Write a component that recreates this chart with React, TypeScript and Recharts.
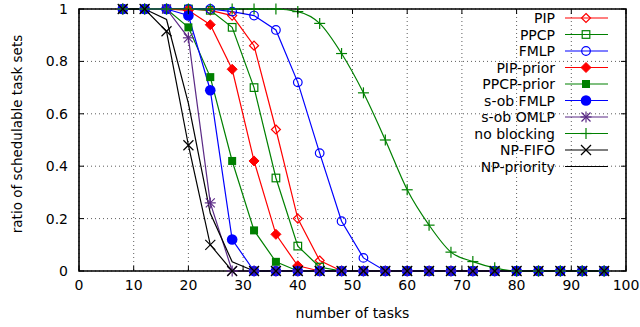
import React from 'react'
import { LineChart, Line, XAxis, YAxis, CartesianGrid, Legend, ReferenceArea } from 'recharts'

// number of tasks (x) and ratio of schedulable task sets per protocol
const tasks = [8, 12, 16, 20, 24, 28, 32, 36, 40, 44, 48, 52, 56, 60, 64, 68, 72, 76, 80, 84, 88, 92, 96]

const pip = [1, 1, 1, 1, 0.995, 0.975, 0.86, 0.54, 0.2, 0.04, 0, 0, 0, 0, 0, 0, 0, 0, 0, 0, 0, 0, 0]
const ppcp = [1, 1, 1, 1, 0.995, 0.93, 0.7, 0.355, 0.095, 0.015, 0, 0, 0, 0, 0, 0, 0, 0, 0, 0, 0, 0, 0]
const fmlp = [1, 1, 1, 1, 1, 0.99, 0.975, 0.92, 0.72, 0.45, 0.19, 0.05, 0, 0, 0, 0, 0, 0, 0, 0, 0, 0, 0]
const pipPrior = [1, 1, 1, 0.995, 0.94, 0.77, 0.42, 0.14, 0.02, 0, 0, 0, 0, 0, 0, 0, 0, 0, 0, 0, 0, 0, 0]
const ppcpPrior = [1, 1, 1, 0.93, 0.74, 0.42, 0.155, 0.035, 0, 0, 0, 0, 0, 0, 0, 0, 0, 0, 0, 0, 0, 0, 0]
const sobFmlp = [1, 1, 1, 0.975, 0.69, 0.12, 0, 0, 0, 0, 0, 0, 0, 0, 0, 0, 0, 0, 0, 0, 0, 0, 0]
const sobOmlp = [1, 1, 1, 0.89, 0.26, 0, 0, 0, 0, 0, 0, 0, 0, 0, 0, 0, 0, 0, 0, 0, 0, 0, 0]
const noBlocking = [1, 1, 1, 1, 1, 1, 1, 1, 0.99, 0.945, 0.83, 0.68, 0.5, 0.31, 0.175, 0.072, 0.036, 0.012, 0, 0, 0, 0, 0]
const npFifo = [1, 1, 0.915, 0.48, 0.1, 0, 0, 0, 0, 0, 0, 0, 0, 0, 0, 0, 0, 0, 0, 0, 0, 0, 0]
const npPriority = [1, 1, 0.96, 0.64, 0.22, 0.035, 0, 0, 0, 0, 0, 0, 0, 0, 0, 0, 0, 0, 0, 0, 0, 0, 0]

const xTicks = [0, 10, 20, 30, 40, 50, 60, 70, 80, 90, 100]
const yTicks = [0, 0.2, 0.4, 0.6, 0.8, 1]

const RED = '#ff0000'
const GREEN = '#008000'
const BLUE = '#0000ff'
const PURPLE = '#5b2a86'
const BLACK = '#000000'
const FONT = "'DejaVu Sans', sans-serif"

// plot box (from chart margins + axis sizes)
const PLOT = { left: 79, right: 626, top: 9, bottom: 271 }

type MarkerKind =
  | 'diamondOpen'
  | 'squareOpen'
  | 'circleOpen'
  | 'diamond'
  | 'square'
  | 'circle'
  | 'star'
  | 'plus'
  | 'cross'
  | null

interface Series {
  key: string
  values: number[]
  color: string
  marker: MarkerKind
  curve: 'linear' | 'monotone'
}

const series: Series[] = [
  { key: 'PIP', values: pip, color: RED, marker: 'diamondOpen', curve: 'linear' },
  { key: 'PPCP', values: ppcp, color: GREEN, marker: 'squareOpen', curve: 'linear' },
  { key: 'FMLP', values: fmlp, color: BLUE, marker: 'circleOpen', curve: 'linear' },
  { key: 'PIP-prior', values: pipPrior, color: RED, marker: 'diamond', curve: 'linear' },
  { key: 'PPCP-prior', values: ppcpPrior, color: GREEN, marker: 'square', curve: 'linear' },
  { key: 's-ob FMLP', values: sobFmlp, color: BLUE, marker: 'circle', curve: 'linear' },
  { key: 's-ob OMLP', values: sobOmlp, color: PURPLE, marker: 'star', curve: 'linear' },
  { key: 'no blocking', values: noBlocking, color: GREEN, marker: 'plus', curve: 'monotone' },
  { key: 'NP-FIFO', values: npFifo, color: BLACK, marker: 'cross', curve: 'linear' },
  { key: 'NP-priority', values: npPriority, color: BLACK, marker: null, curve: 'linear' },
]

const data = tasks.map((t, i) => {
  const row: Record<string, number> = { tasks: t }
  series.forEach((s) => {
    row[s.key] = s.values[i]
  })
  return row
})

const Marker = ({ kind, cx, cy, color }: { kind: MarkerKind; cx: number; cy: number; color: string }) => {
  if (cx == null || cy == null) return null
  switch (kind) {
    case 'diamondOpen':
      return (
        <polygon
          points={`${cx},${cy - 4.5} ${cx + 4.5},${cy} ${cx},${cy + 4.5} ${cx - 4.5},${cy}`}
          fill="none"
          stroke={color}
          strokeWidth={1.2}
        />
      )
    case 'diamond':
      return (
        <polygon
          points={`${cx},${cy - 5} ${cx + 5},${cy} ${cx},${cy + 5} ${cx - 5},${cy}`}
          fill={color}
          stroke={color}
        />
      )
    case 'squareOpen':
      return <rect x={cx - 3.8} y={cy - 3.8} width={7.6} height={7.6} fill="none" stroke={color} strokeWidth={1.2} />
    case 'square':
      return <rect x={cx - 4} y={cy - 4} width={8} height={8} fill={color} />
    case 'circleOpen':
      return <circle cx={cx} cy={cy} r={4.3} fill="none" stroke={color} strokeWidth={1.2} />
    case 'circle':
      return <circle cx={cx} cy={cy} r={5.3} fill={color} />
    case 'plus':
      return (
        <g stroke={color} strokeWidth={1.2}>
          <line x1={cx - 5.5} x2={cx + 5.5} y1={cy} y2={cy} />
          <line x1={cx} x2={cx} y1={cy - 5.5} y2={cy + 5.5} />
        </g>
      )
    case 'cross':
      return (
        <g stroke={color} strokeWidth={1.2}>
          <line x1={cx - 5} x2={cx + 5} y1={cy - 5} y2={cy + 5} />
          <line x1={cx - 5} x2={cx + 5} y1={cy + 5} y2={cy - 5} />
        </g>
      )
    case 'star':
      return (
        <g stroke={color} strokeWidth={1.2}>
          <line x1={cx - 5.5} x2={cx + 5.5} y1={cy} y2={cy} />
          <line x1={cx} x2={cx} y1={cy - 5.5} y2={cy + 5.5} />
          <line x1={cx - 4.5} x2={cx + 4.5} y1={cy - 4.5} y2={cy + 4.5} />
          <line x1={cx - 4.5} x2={cx + 4.5} y1={cy + 4.5} y2={cy - 4.5} />
        </g>
      )
    default:
      return null
  }
}

const XTick = (props: any) => {
  const { x, payload } = props
  return (
    <g>
      <line x1={x} x2={x} y1={PLOT.bottom} y2={PLOT.bottom - 5} stroke="#000" />
      <line x1={x} x2={x} y1={PLOT.top} y2={PLOT.top + 5} stroke="#000" />
      <text x={x} y={PLOT.bottom + 19} textAnchor="middle" fontFamily={FONT} fontSize={14} fill="#000">
        {payload.value}
      </text>
    </g>
  )
}

const YTick = (props: any) => {
  const { y, payload } = props
  return (
    <g>
      <line x1={PLOT.left} x2={PLOT.left + 5} y1={y} y2={y} stroke="#000" />
      <line x1={PLOT.right} x2={PLOT.right - 5} y1={y} y2={y} stroke="#000" />
      <text x={PLOT.left - 11} y={y + 5} textAnchor="end" fontFamily={FONT} fontSize={14} fill="#000">
        {payload.value}
      </text>
    </g>
  )
}

const YLabel = () => {
  const cx = 17
  const cy = 134
  return (
    <text
      x={cx}
      y={cy}
      transform={`rotate(-90, ${cx}, ${cy})`}
      textAnchor="middle"
      dominantBaseline="central"
      fontFamily={FONT}
      fontSize={13.5}
      fill="#000"
    >
      ratio of schedulable task sets
    </text>
  )
}

const XLabel = () => (
  <text x={(PLOT.left + PLOT.right) / 2} y={318} textAnchor="middle" fontFamily={FONT} fontSize={14} fill="#000">
    number of tasks
  </text>
)

const LegendBox = () => (
  <svg width={200} height={180}>
    {series.map((s, i) => {
      const y = 18 + i * 16.5
      return (
        <g key={s.key}>
          <text x={125} y={y + 5} textAnchor="end" fontFamily={FONT} fontSize={14} fill="#000">
            {s.key}
          </text>
          <line x1={135} x2={178} y1={y} y2={y} stroke={s.color} strokeWidth={1.2} />
          <Marker kind={s.marker} cx={156} cy={y} color={s.color} />
        </g>
      )
    })}
  </svg>
)

export default function App() {
  return (
    <div style={{ position: 'absolute', left: 0, top: 0, background: '#fff' }}>
      <LineChart width={640} height={327} data={data} margin={{ top: 9, right: 14, left: 0, bottom: 0 }}>
        <CartesianGrid stroke="#333" strokeDasharray="1 3" strokeWidth={0.8} />
        <XAxis
          type="number"
          dataKey="tasks"
          domain={[0, 100]}
          ticks={xTicks}
          height={56}
          axisLine={false}
          tickLine={false}
          tick={<XTick />}
          label={<XLabel />}
          interval={0}
        />
        <YAxis
          type="number"
          domain={[0, 1]}
          ticks={yTicks}
          width={79}
          axisLine={false}
          tickLine={false}
          tick={<YTick />}
          label={<YLabel />}
          interval={0}
        />
        <ReferenceArea x1={0} x2={100} y1={0} y2={1} fill="none" fillOpacity={0} stroke="#000" strokeWidth={1.6} />
        {series.map((s) => (
          <Line
            key={s.key}
            dataKey={s.key}
            name={s.key}
            type={s.curve}
            stroke={s.color}
            strokeWidth={1.2}
            isAnimationActive={false}
            dot={
              s.marker
                ? (p: any) => <Marker key={`${s.key}-${p.index}`} kind={s.marker} cx={p.cx} cy={p.cy} color={s.color} />
                : false
            }
            activeDot={false}
          />
        ))}
        <Legend
          layout="vertical"
          align="center"
          verticalAlign="middle"
          content={<LegendBox />}
          wrapperStyle={{ left: 430, top: 0, width: 200, height: 180 }}
        />
      </LineChart>
    </div>
  )
}
